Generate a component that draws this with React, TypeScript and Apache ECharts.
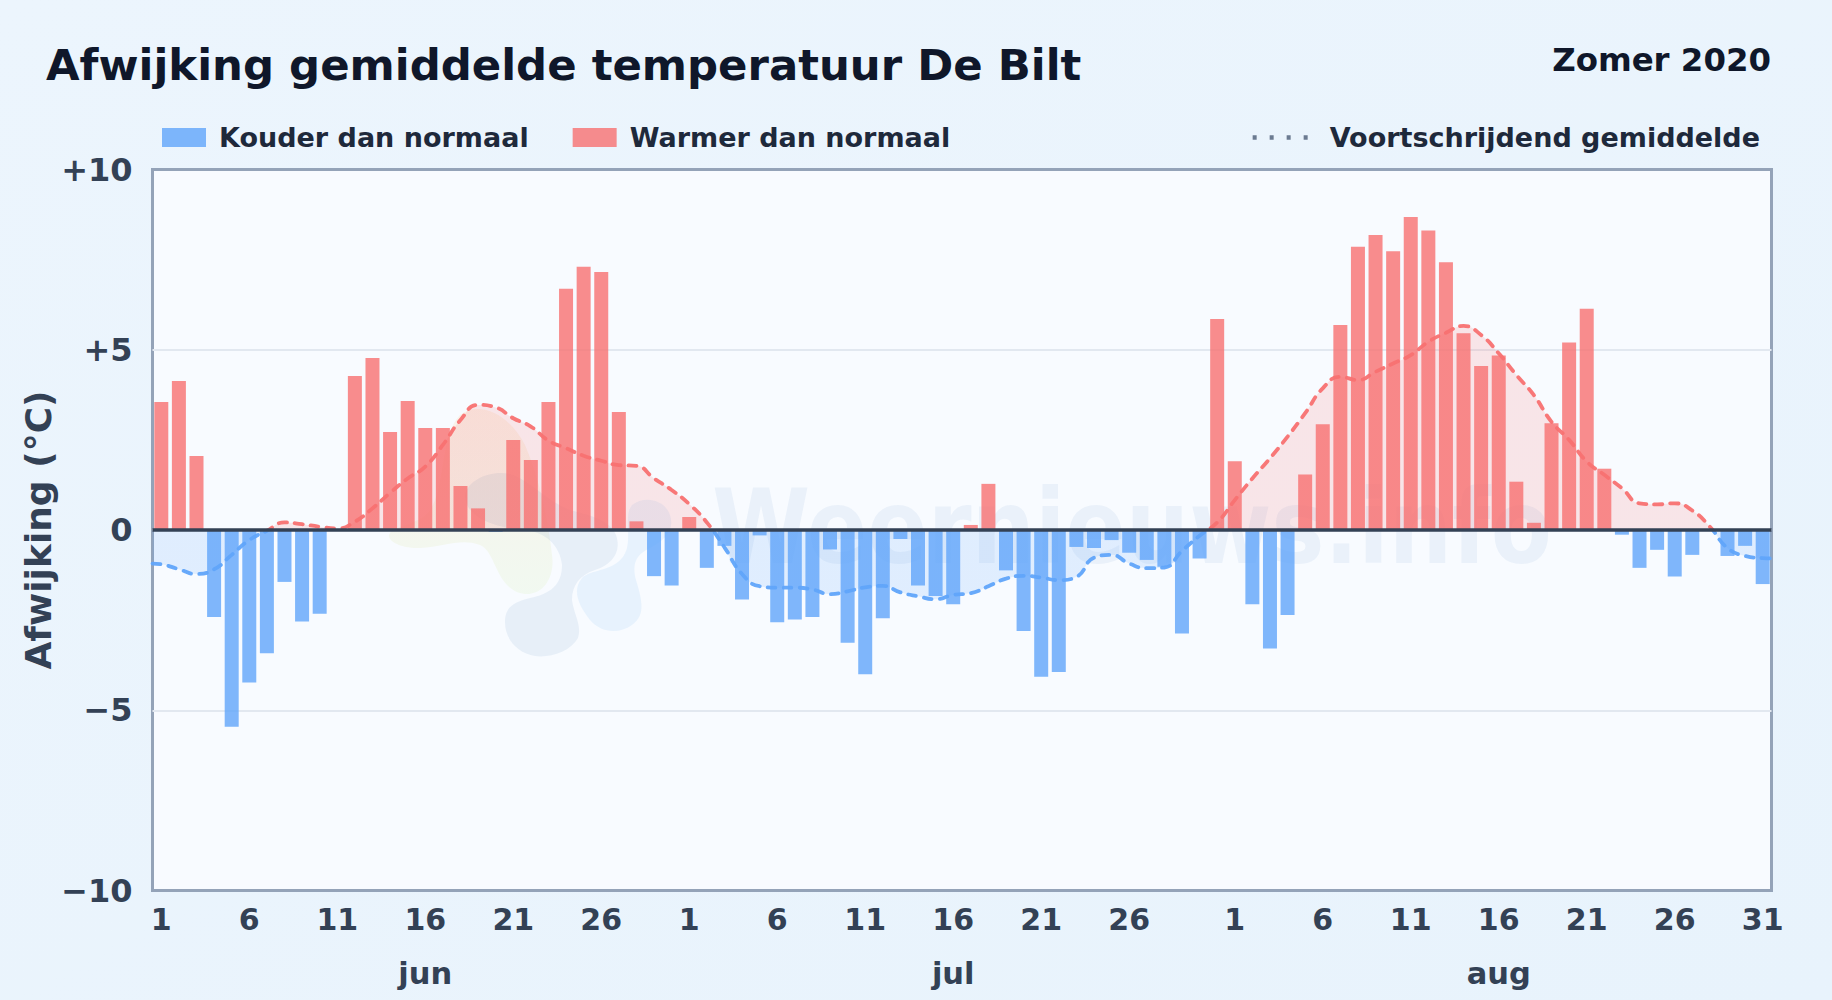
import React, { useEffect, useRef } from "react";
import * as echarts from "echarts";

const monthLengths: [string, number][] = [["jun", 30], ["jul", 31], ["aug", 31]];
const categories: string[] = monthLengths.flatMap(([m, n]) =>
  Array.from({ length: n }, (_, i) => `${m} ${i + 1}`)
);

const junDeviation = [3.55, 4.13, 2.05, -2.41, -5.46, -4.23, -3.42, -1.44, -2.54, -2.32, 0, 4.27, 4.77, 2.72, 3.58, 2.83, 2.83, 1.22, 0.6, -0.05, 2.5, 1.94, 3.55, 6.69, 7.3, 7.16, 3.27, 0.24, -1.28, -1.54];
const julDeviation = [0.36, -1.05, -0.44, -1.93, -0.15, -2.56, -2.48, -2.41, -0.54, -3.13, -4.0, -2.45, -0.25, -1.54, -1.83, -2.06, 0.14, 1.28, -1.12, -2.8, -4.07, -3.94, -0.47, -0.5, -0.28, -0.63, -0.83, -1.02, -2.87, -0.79, 5.85];
const augDeviation = [1.91, -2.06, -3.29, -2.36, 1.54, 2.93, 5.69, 7.86, 8.18, 7.73, 8.68, 8.31, 7.43, 5.46, 4.55, 4.84, 1.34, 0.2, 2.96, 5.2, 6.14, 1.7, -0.13, -1.05, -0.55, -1.29, -0.69, 0, -0.72, -0.44, -1.5];

const junAverage = [-0.95, -1.09, -1.22, -1.09, -0.69, -0.28, -0.02, 0.21, 0.16, 0.09, 0.04, 0.23, 0.6, 1.03, 1.43, 1.76, 2.36, 3.05, 3.47, 3.4, 3.1, 2.87, 2.48, 2.27, 2.06, 1.92, 1.8, 1.78, 1.43, 1.11];
const julAverage = [0.72, 0.21, -0.48, -1.22, -1.56, -1.6, -1.6, -1.65, -1.78, -1.7, -1.59, -1.55, -1.73, -1.84, -1.92, -1.8, -1.75, -1.56, -1.35, -1.27, -1.32, -1.39, -1.3, -0.77, -0.69, -0.93, -1.06, -1.04, -0.58, -0.16, 0.21];
const augAverage = [0.83, 1.43, 1.99, 2.59, 3.24, 3.93, 4.25, 4.16, 4.39, 4.62, 4.85, 5.22, 5.47, 5.66, 5.41, 4.9, 4.3, 3.74, 3.0, 2.5, 1.9, 1.53, 1.16, 0.74, 0.71, 0.74, 0.54, 0.09, -0.5, -0.72, -0.78];
const averageAtStart = -0.93;
const averageAtEnd = -0.79;

const deviation = [...junDeviation, ...julDeviation, ...augDeviation];
const average = [...junAverage, ...julAverage, ...augAverage];
const colder = deviation.map((v) => (v < 0 ? v : null));
const warmer = deviation.map((v) => (v > 0 ? v : null));
const averagePoints: [number, number][] = [
  [0, averageAtStart],
  ...average.map((v, i): [number, number] => [i + 0.5, v]),
  [average.length, averageAtEnd],
];

const tickIndices = [0, 5, 10, 15, 20, 25, 30, 35, 40, 45, 50, 55, 61, 66, 71, 76, 81, 86, 91];
const monthIndices = [15, 45, 76];
const yTickLabels: Record<string, string> = { "10": "+10", "5": "+5", "0": "0", "-5": "\u22125", "-10": "\u221210" };

const FONT = "DejaVu Sans";
const BLUE = "rgba(96,165,250,0.8)";
const RED = "rgba(248,113,113,0.8)";

echarts.graphic.registerShape("blobWarm", echarts.graphic.extendPath(
  "M 390 533 C 385 540 400 549 420 548 C 445 547 460 538 480 545 C 497 552 495 590 525 594 C 545 595 555 575 552 555 C 548 520 540 480 525 445 C 510 415 480 400 460 415 C 440 435 445 490 430 510 C 420 525 395 525 390 533 Z", {}));
echarts.graphic.registerShape("blobGrey", echarts.graphic.extendPath(
  "M 465 495 C 468 480 490 470 510 474 C 530 480 545 500 570 510 C 590 515 610 520 616 535 C 622 552 612 565 595 570 C 580 575 572 585 572 600 C 574 615 582 625 578 638 C 570 652 550 658 535 656 C 518 653 505 640 505 622 C 505 606 515 602 530 598 C 550 594 562 585 562 565 C 560 545 545 532 525 530 C 500 528 465 520 465 495 Z", {}));
echarts.graphic.registerShape("blobBlue", echarts.graphic.extendPath(
  "M 632 505 C 645 495 665 500 670 515 C 675 530 665 540 650 548 C 635 555 632 565 636 580 C 642 600 646 615 632 625 C 618 635 600 632 590 620 C 578 605 572 590 582 578 C 590 570 605 572 618 562 C 630 552 628 540 628 525 C 628 515 628 510 632 505 Z", {}));

export default function App() {
  const ref = useRef<HTMLDivElement>(null);
  useEffect(() => {
    document.body.style.margin = "0";
    const chart = echarts.init(ref.current!, undefined, { renderer: "svg" });
    chart.setOption({
      animation: false,
      backgroundColor: { type: "linear", x: 0, y: 0, x2: 1, y2: 1, colorStops: [{ offset: 0, color: "#ecf5fd" }, { offset: 1, color: "#e8f3fc" }] },
      textStyle: { fontFamily: FONT },
      title: [
        { text: "Afwijking gemiddelde temperatuur De Bilt", left: 41, top: 38, textStyle: { fontFamily: FONT, fontSize: 43.4, fontWeight: "bold", color: "#0f172a" } },
        { text: "Zomer 2020", right: 56, top: 39, textStyle: { fontFamily: FONT, fontSize: 32.4, fontWeight: "bold", color: "#0f172a" } },
      ],
      legend: [
        {
          data: ["Kouder dan normaal", "Warmer dan normaal"],
          left: 162, top: 124, padding: 0, itemWidth: 44, itemHeight: 19, itemGap: 44, icon: "rect",
          textStyle: { fontFamily: FONT, fontSize: 27, fontWeight: "bold", color: "#1e293b", padding: [0, 0, 0, 8] },
        },
        {
          data: [{ name: "Voortschrijdend gemiddelde", itemStyle: { opacity: 0 }, lineStyle: { color: "#64748b", type: [4, 13], width: 4.5, cap: "butt" } }],
          right: 72, top: 124, padding: 0, itemWidth: 55, itemHeight: 19,
          textStyle: { fontFamily: FONT, fontSize: 27, fontWeight: "bold", color: "#1e293b", padding: [0, 0, 0, 17] },
        },
      ],
      grid: { left: 152.5, right: 60.5, top: 169.5, bottom: 109.5, show: true, backgroundColor: "#f8fbff", borderColor: "#94a3b8", borderWidth: 3 },
      xAxis: [
        {
          type: "category", data: categories, position: "bottom",
          axisLine: { show: false, onZero: false }, axisTick: { show: false }, splitLine: { show: false },
          axisLabel: { interval: (i: number) => tickIndices.includes(i), formatter: (v: string) => v.split(" ")[1], margin: 14, fontFamily: FONT, fontSize: 30, fontWeight: "bold", color: "#334155" },
        },
        {
          type: "category", data: categories, position: "bottom", offset: 53,
          axisLine: { show: false, onZero: false }, axisTick: { show: false }, splitLine: { show: false },
          axisLabel: { interval: (i: number) => monthIndices.includes(i), formatter: (v: string) => v.split(" ")[0], margin: 14, fontFamily: FONT, fontSize: 30.5, fontWeight: "bold", color: "#334155" },
        },
        {
          type: "value", min: 0, max: average.length, show: false, position: "bottom",
          axisLine: { show: false, onZero: false }, splitLine: { show: false }, axisTick: { show: false }, axisLabel: { show: false },
        },
      ],
      yAxis: {
        type: "value", min: -10, max: 10, interval: 5,
        name: "Afwijking (\u00B0C)", nameLocation: "middle", nameGap: 96, nameMoveOverlap: false,
        nameTextStyle: { fontFamily: FONT, fontSize: 36, fontWeight: "bold", color: "#334155" },
        axisLine: { show: false }, axisTick: { show: false },
        axisLabel: { margin: 20, formatter: (v: number) => yTickLabels[String(v)], fontFamily: FONT, fontSize: 32, fontWeight: "bold", color: "#334155" },
        splitLine: { showMinLine: false, showMaxLine: false, lineStyle: { color: "#e2e8f0", width: 2 } },
      },
      visualMap: {
        show: false, type: "piecewise", seriesIndex: 2, dimension: 1,
        pieces: [{ gt: -100, lte: 0, color: "#60a5fa" }, { gt: 0, lte: 100, color: "#f87171" }],
      },
      series: [
        { type: "bar", name: "Kouder dan normaal", data: colder, barWidth: 14, barGap: "-100%", itemStyle: { color: BLUE } },
        { type: "bar", name: "Warmer dan normaal", data: warmer, barWidth: 14, barGap: "-100%", itemStyle: { color: RED } },
        {
          type: "line", name: "Voortschrijdend gemiddelde", xAxisIndex: 2, data: averagePoints, smooth: 0.5, showSymbol: false, symbol: "none",
          lineStyle: { width: 3.8, type: [8, 8], cap: "round", opacity: 0.95 },
          areaStyle: { opacity: 0.16 },
          z: 3,
          markLine: { silent: true, symbol: "none", label: { show: false }, animation: false, data: [{ yAxis: 0 }], lineStyle: { color: "#334155", width: 3.5, type: "solid" } },
        },
      ],
      graphic: [
        { type: "blobWarm", z: 1, silent: true, style: { fill: { type: "linear", x: 0, y: 0, x2: 0, y2: 1, colorStops: [{ offset: 0, color: "rgba(251,191,120,0.16)" }, { offset: 1, color: "rgba(200,235,150,0.14)" }] } } },
        { type: "blobGrey", z: 1, silent: true, style: { fill: "rgba(70,120,180,0.09)" } },
        { type: "blobBlue", z: 1, silent: true, style: { fill: "rgba(90,170,235,0.1)" } },
        { type: "text", z: 1, silent: true, x: 712, y: 527, scaleY: 1.17, style: { text: "Weernieuws.info", fontFamily: FONT, fontSize: 89, fontWeight: "bold", fill: "rgba(50,110,190,0.07)", verticalAlign: "middle", align: "left" } },
      ],
    });
    return () => chart.dispose();
  }, []);
  return <div ref={ref} style={{ width: 1832, height: 1000 }} />;
}
